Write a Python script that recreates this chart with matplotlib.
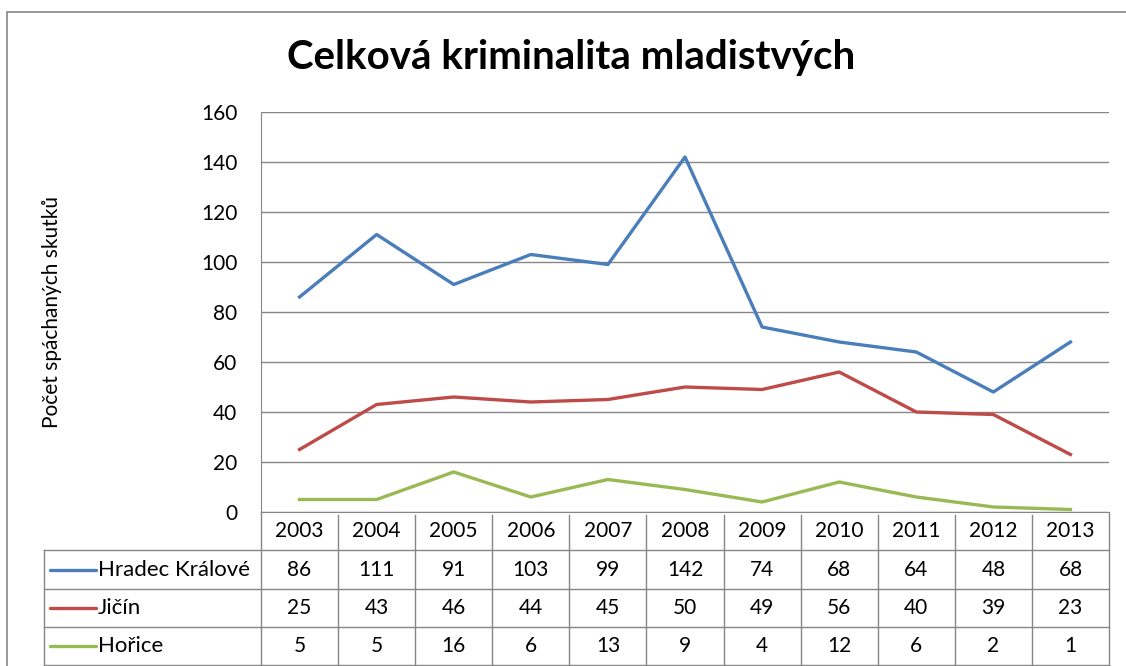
import numpy as np
import matplotlib.pyplot as plt
from matplotlib.lines import Line2D
from matplotlib.patches import Rectangle
from matplotlib.transforms import blended_transform_factory

# Datos
roky = ['2003', '2004', '2005', '2006', '2007', '2008', '2009', '2010', '2011', '2012', '2013']
hradec = [86, 111, 91, 103, 99, 142, 74, 68, 64, 48, 68]
jicin = [25, 43, 46, 44, 45, 50, 49, 56, 40, 39, 23]
horice = [5, 5, 16, 6, 13, 9, 4, 12, 6, 2, 1]
nazvy = ['Hradec Králové', 'Jičín', 'Hořice']
barvy = ['#4A7EBB', '#BE4B48', '#98B954']

W, H = 1126, 666
plt.rcParams['font.family'] = ['Lato', 'DejaVu Sans']

def fx(x):
    return x / W

def fy(y):
    return 1 - y / H

fig = plt.figure(figsize=(W / 100, H / 100), dpi=100)
seda = '#868686'
pismo = 15

# rámeček grafu
fig.patches.append(Rectangle((fx(7), fy(700)), fx(1200), fy(12) - fy(700),
                             transform=fig.transFigure, fill=False, ec=seda, lw=1.2))

ax = fig.add_axes([fx(261), fy(512), fx(1109) - fx(261), fy(112) - fy(512)])
x = np.arange(len(roky))
serie = [hradec, jicin, horice]
for hodnoty, barva in zip(serie, barvy):
    ax.plot(x, hodnoty, color=barva, lw=2.4, solid_joinstyle='round', zorder=3)

ax.set_xlim(-0.5, len(roky) - 0.5)
ax.set_ylim(0, 160)
ax.set_yticks(range(0, 161, 20))
ax.set_xticks([])
ax.grid(axis='y', color=seda, lw=1)
ax.tick_params(axis='y', length=0, pad=17, labelsize=pismo)
for s in ['top', 'right']:
    ax.spines[s].set_visible(False)
ax.spines['left'].set_color(seda)
ax.spines['bottom'].set_color(seda)

fig.text(fx(571), fy(58), 'Celková kriminalita mladistvých', ha='center', va='center',
         fontsize=29, fontweight='bold')
fig.text(fx(52), fy(312), 'Počet spáchaných skutků', rotation=90, ha='center', va='center',
         fontsize=15)

# tabulka dat
tr = blended_transform_factory(ax.transData, fig.transFigure)
radky = [512, 550, 589, 627, 665]
for y in radky[1:]:
    fig.add_artist(Line2D([fx(44), fx(1109)], [fy(y), fy(y)], color=seda, lw=1))
fig.add_artist(Line2D([fx(44), fx(44)], [fy(550), fy(665)], color=seda, lw=1))
fig.add_artist(Line2D([fx(261), fx(261)], [fy(512), fy(665)], color=seda, lw=1))
fig.add_artist(Line2D([fx(1109), fx(1109)], [fy(513), fy(665)], color=seda, lw=1))
for i in range(len(roky) - 1):
    fig.add_artist(Line2D([i + 0.5, i + 0.5], [fy(515), fy(665)], color=seda, lw=1, transform=tr))

for i, rok in enumerate(roky):
    fig.text(i, fy(531), rok, transform=tr, ha='center', va='center', fontsize=pismo)

for r, (nazev, hodnoty, barva) in enumerate(zip(nazvy, serie, barvy)):
    yc = (radky[r + 1] + radky[r + 2]) / 2
    fig.add_artist(Line2D([fx(50), fx(96)], [fy(yc), fy(yc)], color=barva, lw=2.4,
                          solid_capstyle='round'))
    fig.text(fx(98), fy(yc), nazev, ha='left', va='center', fontsize=pismo + 1)
    for i, v in enumerate(hodnoty):
        fig.text(i, fy(yc), str(v), transform=tr, ha='center', va='center', fontsize=pismo)

fig.savefig('out.png', dpi=100)
